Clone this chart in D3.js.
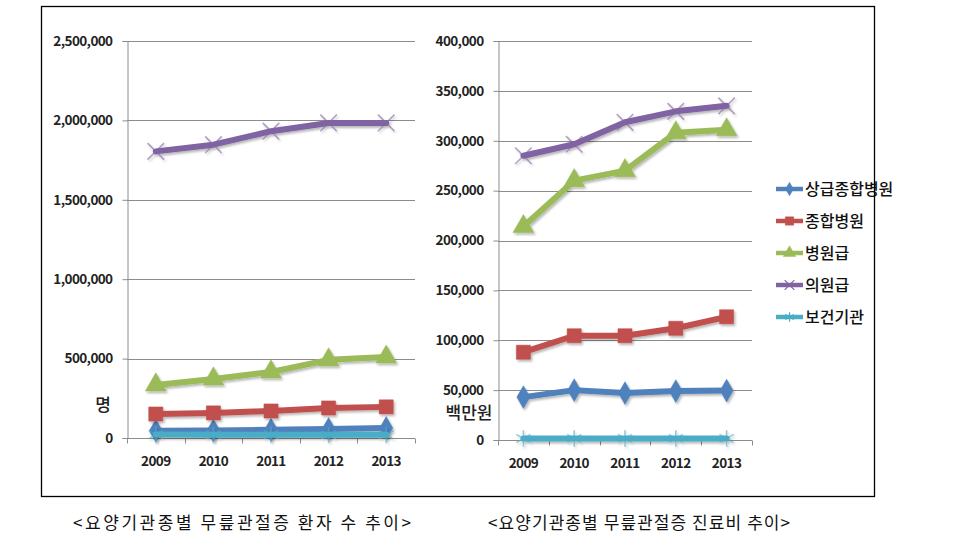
<!DOCTYPE html>
<html><head><meta charset="utf-8">
<script src="https://cdn.jsdelivr.net/npm/d3@7"></script>
<style>
html,body{margin:0;padding:0;background:#fff;}
svg{display:block;}
</style></head>
<body>
<svg id="c" width="954" height="557"></svg>
<script>
// ---- data ----
const years = ["2009", "2010", "2011", "2012", "2013"];
const seriesNames = ["상급종합병원", "종합병원", "병원급", "의원급", "보건기관"];
const seriesColors = ["#4F81BD", "#C0504D", "#9BBB59", "#8064A2", "#4BACC6"];
const seriesSymbols = ["diamond", "square", "triangle", "times", "asterisk"];

// 환자 수 (명)
const patTertiary = [46000, 47000, 52000, 57000, 63000];
const patGeneral = [151000, 158000, 170000, 189000, 196000];
const patHospital = [334000, 372000, 416000, 492000, 510000];
const patClinic = [1805000, 1847000, 1932000, 1984000, 1984000];
const patPublic = [22000, 21000, 21000, 20000, 20000];

// 진료비 (백만원)
const costTertiary = [43000, 50000, 47000, 49000, 49500];
const costGeneral = [88000, 104500, 104500, 112000, 123500];
const costHospital = [214000, 260000, 270000, 308000, 311000];
const costClinic = [285000, 296500, 318500, 329500, 335000];
const costPublic = [1500, 1500, 1500, 1500, 1500];

const patTicks = [0, 500000, 1000000, 1500000, 2000000, 2500000];
const costTicks = [0, 50000, 100000, 150000, 200000, 250000, 300000, 350000, 400000];

const captionLeft = "<요양기관종별 무릎관절증 환자 수 추이>";
const captionRight = "<요양기관종별 무릎관절증 진료비 추이>";
const unitLeft = "명";
const unitRight = "백만원";

// ---- drawing ----
const svg = d3.select("#c");
const FONT = "'Noto Sans CJK KR', 'Noto Sans', sans-serif";

const defs = svg.append("defs");
const f = defs.append("filter").attr("id", "sh").attr("x", "-20%").attr("y", "-20%").attr("width", "140%").attr("height", "160%");
f.append("feDropShadow").attr("dx", 1.5).attr("dy", 2).attr("stdDeviation", 1.2).attr("flood-color", "#000").attr("flood-opacity", 0.28);

// frame
svg.append("rect").attr("x", 41.5).attr("y", 6.5).attr("width", 833).attr("height", 490)
  .attr("fill", "#fff").attr("stroke", "#000").attr("stroke-width", 1.3);

const symMap = {
  diamond: d3.symbolDiamond, square: d3.symbolSquare, triangle: d3.symbolTriangle,
  times: d3.symbolTimes, asterisk: d3.symbolAsterisk
};
const symSize = {diamond: 150, square: 200, triangle: 190, times: 180, asterisk: 190};
const fmt = d3.format(",");

function drawChart(opt) {
  const g = svg.append("g");
  const x = d3.scaleBand().domain(years).range([opt.x0, opt.x1]);
  const y = d3.scaleLinear().domain([0, d3.max(opt.ticks)]).range([opt.y0, opt.y1]);

  // gridlines
  g.append("g").selectAll("line").data(opt.ticks.slice(1)).join("line")
    .attr("x1", opt.x0).attr("x2", opt.x1)
    .attr("y1", d => Math.round(y(d)) + 0.5).attr("y2", d => Math.round(y(d)) + 0.5)
    .attr("stroke", "#8c8c8c").attr("stroke-width", 1);

  // y axis
  const ya = g.append("g").attr("transform", `translate(${opt.x0 + 0.5},0)`)
    .call(d3.axisLeft(y).tickValues(opt.ticks).tickFormat(fmt).tickSize(5).tickPadding(10));
  ya.select(".domain").attr("stroke", "#8c8c8c");
  ya.selectAll(".tick line").attr("stroke", "#8c8c8c");
  ya.selectAll(".tick text").attr("font-family", FONT).attr("font-size", 13.5)
    .attr("font-weight", 600).attr("fill", "#222").attr("letter-spacing", -0.6);

  // x axis
  const xa = g.append("g").attr("transform", `translate(0,${Math.round(opt.y0) + 0.5})`);
  xa.append("line").attr("x1", opt.x0).attr("x2", opt.x1).attr("stroke", "#8c8c8c");
  const bounds = d3.range(years.length + 1).map(i => opt.x0 + i * x.bandwidth());
  xa.selectAll("line.tk").data(bounds).join("line").attr("class", "tk")
    .attr("x1", d => Math.round(d) + 0.5).attr("x2", d => Math.round(d) + 0.5)
    .attr("y1", 0).attr("y2", 5).attr("stroke", "#8c8c8c");
  xa.selectAll("text").data(years).join("text")
    .attr("x", d => x(d) + x.bandwidth() / 2).attr("y", 27)
    .attr("text-anchor", "middle").attr("font-family", FONT).attr("font-size", 13.5)
    .attr("font-weight", 600).attr("fill", "#222").attr("letter-spacing", -0.6).text(d => d);

  // unit label
  g.append("text").attr("x", opt.unitX).attr("y", opt.unitY).attr("text-anchor", "middle")
    .attr("font-family", FONT).attr("font-size", 17).attr("font-weight", 500)
    .attr("fill", "#222").text(opt.unit);

  // series
  const line = d3.line().x((d, i) => x(years[i]) + x.bandwidth() / 2).y(d => y(d));
  opt.series.forEach((vals, si) => {
    const sg = g.append("g").attr("filter", "url(#sh)");
    sg.append("path").datum(vals).attr("d", line).attr("fill", "none")
      .attr("stroke", seriesColors[si]).attr("stroke-width", 6)
      .attr("stroke-linejoin", "round").attr("stroke-linecap", "round");
    const s = seriesSymbols[si];
    const stroke = (s === "times" || s === "asterisk");
    sg.selectAll("path.m").data(vals).join("path").attr("class", "m")
      .attr("transform", (d, i) => `translate(${x(years[i]) + x.bandwidth() / 2},${y(d)})`)
      .attr("d", d3.symbol(symMap[s], symSize[s]))
      .attr("fill", stroke ? "none" : seriesColors[si])
      .attr("stroke", seriesColors[si]).attr("stroke-opacity", stroke ? 0.6 : 1)
      .attr("stroke-width", stroke ? 1.6 : 0.5);
  });
  return {x, y};
}

drawChart({
  x0: 127, x1: 415, y0: 438, y1: 41, ticks: patTicks,
  series: [patTertiary, patGeneral, patHospital, patClinic, patPublic],
  unit: unitLeft, unitX: 103, unitY: 411
});
drawChart({
  x0: 498, x1: 752, y0: 440, y1: 41, ticks: costTicks,
  series: [costTertiary, costGeneral, costHospital, costClinic, costPublic],
  unit: unitRight, unitX: 469, unitY: 419
});

// legend
const lg = svg.append("g");
seriesNames.forEach((name, i) => {
  const yy = 189 + i * 32;
  const row = lg.append("g").attr("transform", `translate(776,${yy})`);
  row.append("line").attr("x1", 0).attr("x2", 27).attr("stroke", seriesColors[i])
    .attr("stroke-width", 4.5);
  const s = seriesSymbols[i];
  const stroke = (s === "times" || s === "asterisk");
  row.append("path").attr("transform", "translate(13.5,0)")
    .attr("d", d3.symbol(symMap[s], symSize[s] * 0.35))
    .attr("fill", stroke ? "none" : seriesColors[i]).attr("stroke", seriesColors[i])
    .attr("stroke-width", stroke ? 1.2 : 0.5);
  row.append("text").attr("x", 29).attr("y", 6).attr("font-family", FONT)
    .attr("font-size", 16).attr("font-weight", 500).attr("fill", "#111").text(name);
});

// captions
svg.append("text").attr("x", 73).attr("y", 529).attr("textLength", 338).attr("lengthAdjust", "spacing")
  .attr("font-family", FONT).attr("font-size", 17).attr("fill", "#111").text(captionLeft);
svg.append("text").attr("x", 488).attr("y", 529).attr("textLength", 302).attr("lengthAdjust", "spacing")
  .attr("font-family", FONT).attr("font-size", 17).attr("fill", "#111").text(captionRight);
</script>
</body></html>
